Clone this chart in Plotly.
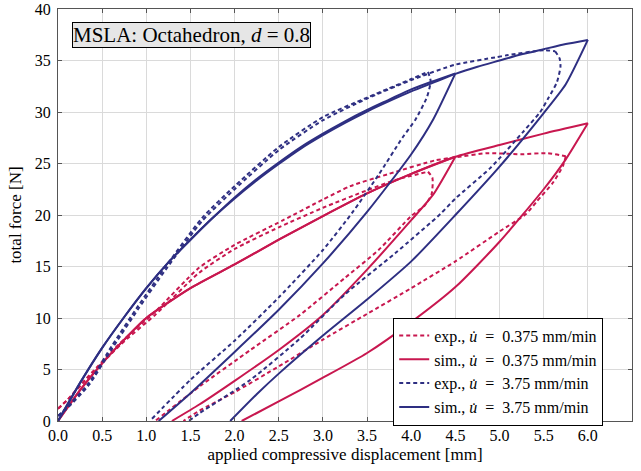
import plotly.graph_objects as go

RED = "#C8174F"
BLUE = "#2E2F82"

# ---- simulation, u_dot = 3.75 mm/min (blue solid)
sim_fast_load1_x = [0, 0.25, 0.5, 0.75, 1.0, 1.25, 1.5, 1.75, 2.0, 2.25, 2.5, 2.75, 3.0, 3.25, 3.5, 3.75, 4.0, 4.25, 4.5]
sim_fast_load1_y = [0, 3.7, 7.1, 10.1, 12.9, 15.4, 17.6, 19.7, 21.7, 23.5, 25.1, 26.6, 27.9, 29.1, 30.2, 31.2, 32.2, 33.0, 33.75]
sim_fast_unload1_x = [4.5, 4.25, 4.0, 3.5, 3.0, 2.5, 2.0, 1.5, 1.14]
sim_fast_unload1_y = [33.75, 29.3, 25.9, 20.3, 15.3, 10.8, 6.7, 2.7, 0]
sim_fast_load2_x = [0, 0.25, 0.5, 0.75, 1.0, 1.25, 1.5, 1.75, 2.0, 2.25, 2.5, 2.75, 3.0, 3.25, 3.5, 3.75, 4.0, 4.25, 4.5, 4.75, 5.0, 5.25, 5.5, 5.75, 6.0]
sim_fast_load2_y = [0, 3.7, 7.1, 10.1, 12.9, 15.4, 17.6, 19.7, 21.6, 23.35, 24.95, 26.45, 27.75, 28.95, 30.05, 31.05, 32.0, 32.85, 33.7, 34.4, 35.0, 35.6, 36.1, 36.6, 37.0]
sim_fast_unload2_x = [6.0, 5.75, 5.5, 5.0, 4.5, 4.0, 3.5, 3.0, 2.5, 2.25, 1.95]
sim_fast_unload2_y = [37.0, 32.7, 29.9, 24.7, 20.0, 15.5, 11.8, 8.3, 4.6, 2.6, 0]

# ---- simulation, u_dot = 0.375 mm/min (red solid)
sim_slow_load1_x = [0, 0.25, 0.5, 0.75, 1.0, 1.5, 2.0, 2.5, 3.0, 3.5, 4.0, 4.5]
sim_slow_load1_y = [0, 3.0, 5.6, 7.9, 10.0, 12.9, 15.2, 17.6, 19.9, 22.1, 24.0, 25.66]
sim_slow_unload1_x = [4.5, 4.25, 4.0, 3.5, 3.0, 2.5, 2.0, 1.6, 1.29]
sim_slow_unload1_y = [25.66, 22.0, 19.5, 14.7, 10.3, 6.9, 3.9, 1.6, 0]
sim_slow_load2_x = [0, 0.25, 0.5, 0.75, 1.0, 1.5, 2.0, 2.5, 3.0, 3.5, 4.0, 4.5, 5.0, 5.5, 6.0]
sim_slow_load2_y = [0, 3.0, 5.6, 7.9, 10.0, 12.9, 15.2, 17.6, 19.9, 22.1, 24.0, 25.66, 26.8, 27.9, 28.9]
sim_slow_unload2_x = [6.0, 5.75, 5.5, 5.0, 4.5, 4.0, 3.5, 3.0, 2.5, 2.08]
sim_slow_unload2_y = [28.9, 25.4, 22.5, 17.4, 13.0, 9.6, 6.6, 4.2, 1.9, 0]

# ---- experiment, u_dot = 3.75 mm/min (blue dashed)
exp_fast_load1_x = [0, 0.1, 0.35, 0.61, 0.91, 1.22, 1.63, 2.0, 2.5, 3.0, 3.5, 3.75, 4.0, 4.19]
exp_fast_load1_y = [0.5, 1.3, 3.7, 7.3, 11.2, 15.0, 19.7, 22.8, 26.6, 29.5, 31.4, 32.3, 33.2, 33.9]
exp_fast_unload1_x = [4.19, 4.22, 4.18, 4.05, 3.9, 3.63, 3.33, 3.0, 2.5, 2.0, 1.5, 1.04]
exp_fast_unload1_y = [33.9, 33.0, 31.5, 29.3, 27.5, 23.9, 20.2, 16.6, 12.0, 7.8, 4.0, 0]
exp_fast_load2_x = [0, 0.1, 0.35, 0.61, 0.91, 1.22, 1.63, 2.0, 2.5, 3.0, 3.5, 4.0, 4.5, 4.95, 5.08, 5.5, 5.63]
exp_fast_load2_y = [0.5, 1.2, 3.5, 7.0, 10.9, 14.7, 19.4, 22.5, 26.3, 29.2, 31.3, 33.1, 34.6, 35.3, 35.5, 36.0, 35.9]
exp_fast_unload2_x = [5.63, 5.68, 5.69, 5.65, 5.55, 5.46, 5.27, 4.9, 4.5, 4.33, 3.82, 3.25, 2.74, 2.18, 1.61, 1.48]
exp_fast_unload2_y = [35.9, 35.2, 34.4, 32.9, 31.3, 30.0, 28.1, 24.6, 21.6, 20.1, 16.3, 12.3, 8.0, 4.0, 0.8, 0]

# ---- experiment, u_dot = 0.375 mm/min (red dashed)
exp_slow_load1_x = [0, 0.1, 0.35, 0.72, 1.1, 1.6, 2.0, 2.5, 3.0, 3.5, 3.82, 4.19]
exp_slow_load1_y = [1.2, 2.0, 4.3, 7.5, 10.3, 14.4, 16.7, 18.8, 20.7, 22.4, 23.4, 24.2]
exp_slow_unload1_x = [4.19, 4.24, 4.23, 4.15, 4.0, 3.63, 3.25, 2.74, 2.18, 1.61, 1.1]
exp_slow_unload1_y = [24.2, 23.6, 22.0, 20.9, 19.9, 16.6, 13.9, 10.3, 6.9, 3.4, 0]
exp_slow_load2_x = [0, 0.1, 0.35, 0.72, 1.1, 1.6, 2.0, 2.55, 3.0, 3.31, 3.75, 4.27, 4.5, 4.86, 5.24, 5.54, 5.75]
exp_slow_load2_y = [1.2, 2.0, 4.4, 7.7, 10.6, 14.9, 17.1, 19.5, 21.5, 22.8, 24.0, 25.3, 25.6, 26.0, 25.9, 26.0, 25.7]
exp_slow_unload2_x = [5.75, 5.72, 5.61, 5.42, 5.3, 5.0, 4.5, 4.0, 3.5, 3.0, 2.5, 2.0, 1.6, 1.42]
exp_slow_unload2_y = [25.7, 24.8, 23.2, 21.3, 20.1, 18.4, 15.5, 12.9, 10.4, 7.9, 5.3, 2.8, 1.0, 0]

EQ = "\u2002=\u2002"
legend_names = [
    "exp., <i>u\u0307</i>" + EQ + "0.375 mm/min",
    "sim., <i>u\u0307</i>" + EQ + "0.375 mm/min",
    "exp., <i>u\u0307</i>" + EQ + "3.75 mm/min",
    "sim., <i>u\u0307</i>" + EQ + "3.75 mm/min",
]

series = [
    (legend_names[0], RED, "4px,3px", [(exp_slow_load1_x, exp_slow_load1_y), (exp_slow_unload1_x, exp_slow_unload1_y),
                                       (exp_slow_load2_x, exp_slow_load2_y), (exp_slow_unload2_x, exp_slow_unload2_y)]),
    (legend_names[1], RED, "solid", [(sim_slow_load1_x, sim_slow_load1_y), (sim_slow_unload1_x, sim_slow_unload1_y),
                                     (sim_slow_load2_x, sim_slow_load2_y), (sim_slow_unload2_x, sim_slow_unload2_y)]),
    (legend_names[2], BLUE, "4px,3px", [(exp_fast_load1_x, exp_fast_load1_y), (exp_fast_unload1_x, exp_fast_unload1_y),
                                        (exp_fast_load2_x, exp_fast_load2_y), (exp_fast_unload2_x, exp_fast_unload2_y)]),
    (legend_names[3], BLUE, "solid", [(sim_fast_load1_x, sim_fast_load1_y), (sim_fast_unload1_x, sim_fast_unload1_y),
                                      (sim_fast_load2_x, sim_fast_load2_y), (sim_fast_unload2_x, sim_fast_unload2_y)]),
]

fig = go.Figure()
for name, color, dash, parts in series:
    for i, (xs, ys) in enumerate(parts):
        fig.add_trace(go.Scatter(
            x=xs, y=ys, mode="lines", name=name, legendgroup=name,
            showlegend=(i == 0),
            line=dict(color=color, width=2, dash=dash, shape="spline", smoothing=0.6),
        ))

FONT = "Liberation Serif, DejaVu Serif, serif"

fig.update_layout(
    width=641, height=471,
    margin=dict(l=58, r=9, t=9, b=50),
    paper_bgcolor="white", plot_bgcolor="white",
    font=dict(family=FONT, size=16, color="black"),
    showlegend=True,
    legend=dict(
        x=0.584, y=0.251, xanchor="left", yanchor="top",
        bgcolor="white", bordercolor="black", borderwidth=1,
        font=dict(family=FONT, size=16), itemwidth=30,
        tracegroupgap=0,
    ),
    xaxis=dict(
        range=[0, 6.5], dtick=0.5, tick0=0, tickformat=".1f",
        showgrid=True, gridcolor="#DADADA", gridwidth=1,
        showline=True, linecolor="#555555", linewidth=1, mirror="ticks",
        ticks="inside", ticklen=4, tickcolor="#555555",
        zeroline=False, automargin=False,
        title=dict(text="applied compressive displacement [mm]", font=dict(size=17), standoff=4),
        tickfont=dict(size=16),
    ),
    yaxis=dict(
        range=[0, 40], dtick=5, tick0=0,
        showgrid=True, gridcolor="#DADADA", gridwidth=1,
        showline=True, linecolor="#555555", linewidth=1, mirror="ticks",
        ticks="inside", ticklen=4, tickcolor="#555555",
        zeroline=False, automargin=False, ticklabelstandoff=3,
        title=dict(text="total force [N]", font=dict(size=17), standoff=8),
        tickfont=dict(size=16),
    ),
    annotations=[dict(
        text="MSLA: Octahedron, <i>d</i> = 0.8",
        xref="paper", yref="paper", x=0.025, y=0.968,
        xanchor="left", yanchor="top", showarrow=False,
        font=dict(family=FONT, size=21, color="black"),
        bgcolor="#E6E6E6", bordercolor="black", borderwidth=1, borderpad=0,
    )],
)

fig.write_html("out.html")
